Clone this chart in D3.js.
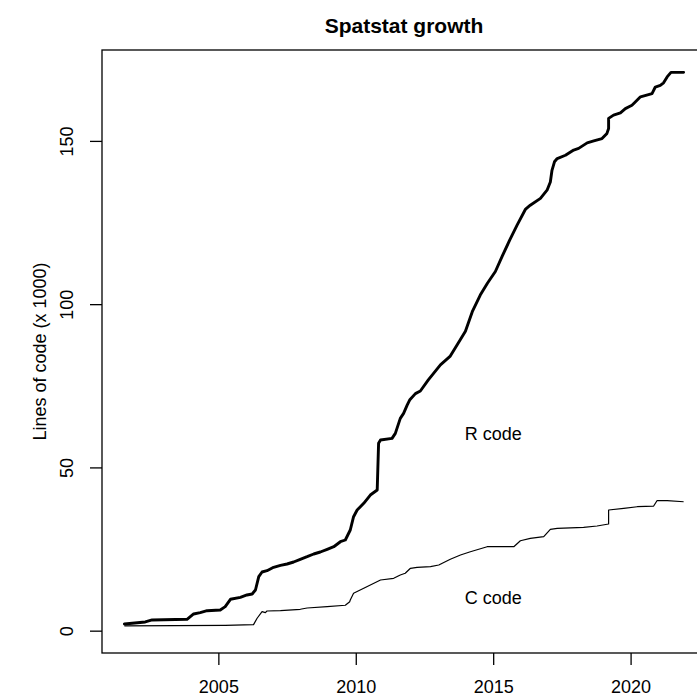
<!DOCTYPE html>
<html>
<head>
<meta charset="utf-8">
<script src="https://cdn.jsdelivr.net/npm/d3@7"></script>
<style>
  body { margin: 0; background: #fff; }
  svg { display: block; font-family: "Liberation Sans", Arial, sans-serif; }
</style>
</head>
<body>
<svg id="chart"></svg>
<script>
// R code series (years, lines of code x 1000)
let rYears = [2001.58, 2002.34, 2002.59, 2003.86, 2004.10, 2004.34, 2004.59, 2005.07, 2005.25, 2005.44,
  2005.80, 2006.04, 2006.23, 2006.35, 2006.47, 2006.59, 2006.77, 2007.01, 2007.26, 2007.50,
  2007.74, 2007.98, 2008.23, 2008.47, 2008.71, 2008.96, 2009.20, 2009.44, 2009.62, 2009.80,
  2009.92, 2010.05, 2010.29, 2010.53, 2010.78, 2010.83, 2010.90, 2011.32, 2011.44, 2011.62,
  2011.74, 2011.87, 2011.96, 2012.17, 2012.35, 2012.64, 2013.08, 2013.44, 2013.73, 2013.99,
  2014.24, 2014.53, 2014.79, 2015.08, 2015.33, 2015.60, 2015.87, 2016.17, 2016.35, 2016.72,
  2016.96, 2017.08, 2017.14, 2017.23, 2017.33, 2017.63, 2017.93, 2018.11, 2018.42, 2018.66,
  2018.96, 2019.14, 2019.20, 2019.20, 2019.38, 2019.63, 2019.81, 2020.05, 2020.17, 2020.36,
  2020.78, 2020.90, 2021.08, 2021.20, 2021.33, 2021.47, 2021.93]
let rLines = [2.05, 2.66, 3.28, 3.49, 5.11, 5.51, 6.12, 6.34, 7.35, 9.61,
  10.22, 10.93, 11.23, 12.46, 16.53, 17.97, 18.37, 19.41, 20.02, 20.42,
  21.03, 21.86, 22.65, 23.48, 24.09, 24.92, 25.71, 27.24, 27.77, 30.83,
  34.90, 36.95, 39.00, 41.54, 43.07, 57.37, 58.38, 58.90, 60.43, 65.02,
  66.55, 69.09, 70.62, 72.6, 73.4, 76.8, 81.4, 84.1, 88.1, 91.7,
  97.7, 102.8, 106.4, 110.0, 114.7, 119.6, 124.2, 129.0, 130.3, 132.4,
  134.9, 137.4, 141.0, 143.6, 144.6, 145.6, 147.2, 147.7, 149.4, 150.0,
  150.7, 152.3, 153.8, 156.9, 157.9, 158.6, 159.9, 160.9, 161.9, 163.5,
  164.5, 166.5, 167.0, 167.8, 169.6, 171.0, 171.0]

// C code series
let cYears = [2001.58, 2005.25, 2006.28, 2006.41, 2006.59, 2006.71, 2006.77, 2007.26, 2007.98, 2008.23,
  2008.96, 2009.62, 2009.78, 2009.80, 2009.92, 2010.29, 2010.90, 2011.38, 2011.62, 2011.80,
  2011.99, 2012.23, 2012.72, 2013.02, 2013.44, 2013.81, 2014.17, 2014.78, 2015.75, 2015.99,
  2016.35, 2016.84, 2017.08, 2017.33, 2018.29, 2018.78, 2019.20, 2019.20, 2019.75, 2020.24,
  2020.84, 2020.96, 2021.33, 2021.93]
let cLines = [1.44, 1.65, 1.84, 3.80, 5.82, 5.51, 6.03, 6.12, 6.55, 6.95,
  7.35, 7.78, 8.88, 9.40, 11.45, 12.98, 15.52, 16.04, 17.05, 17.57,
  19.10, 19.41, 19.59, 20.11, 21.86, 23.17, 24.18, 25.71, 25.71, 27.55,
  28.29, 28.78, 31.04, 31.35, 31.65, 32.05, 32.66, 36.95, 37.47, 37.96,
  38.17, 39.80, 39.80, 39.49]

let xTicks = [2005, 2010, 2015, 2020]
let yTicks = [0, 50, 100, 150]
let labels = ["R code", "C code"]
let labelPos = [[2015, 60], [2015, 9.5]]

let width = 697, height = 699
let box = {left: 102, right: 706, top: 50, bottom: 653}

let svg = d3.select('#chart').attr('width', width).attr('height', height)

// R style axis extents: 4% padding
let xr = d3.extent(rYears.concat(cYears))
let xpad = (xr[1] - xr[0]) * 0.04
let ymax = d3.max(rLines.concat(cLines))
let ypad = ymax * 0.04
let x = d3.scaleLinear().domain([xr[0] - xpad, xr[1] + xpad]).range([box.left, box.right])
let y = d3.scaleLinear().domain([-ypad, ymax + ypad]).range([box.bottom, box.top])

let line = d3.line().x(d => x(d[0])).y(d => y(d[1]))

svg.append('path')
  .datum(d3.zip(rYears, rLines))
  .attr('d', line)
  .attr('fill', 'none').attr('stroke', '#000').attr('stroke-width', 2.9)
  .attr('stroke-linejoin', 'round').attr('stroke-linecap', 'round')

svg.append('path')
  .datum(d3.zip(cYears, cLines))
  .attr('d', line)
  .attr('fill', 'none').attr('stroke', '#000').attr('stroke-width', 1.2)
  .attr('stroke-linejoin', 'round')

// box
svg.append('rect')
  .attr('x', box.left).attr('y', box.top)
  .attr('width', box.right - box.left).attr('height', box.bottom - box.top)
  .attr('fill', 'none').attr('stroke', '#000').attr('stroke-width', 1.3)

// axes
let xAxis = svg.append('g')
  .attr('transform', `translate(0,${box.bottom})`)
  .call(d3.axisBottom(x).tickValues(xTicks).tickFormat(d3.format('d')).tickSize(12).tickPadding(15))
xAxis.select('.domain').remove()
xAxis.selectAll('line').attr('stroke-width', 1.3)
xAxis.selectAll('text').attr('font-size', 18).attr('fill', '#000').attr('font-family', null)

let yAxis = svg.append('g')
  .attr('transform', `translate(${box.left},0)`)
  .call(d3.axisLeft(y).tickValues(yTicks).tickSize(12).tickPadding(0))
yAxis.select('.domain').remove()
yAxis.selectAll('line').attr('stroke-width', 1.3)
yAxis.selectAll('text')
  .attr('font-size', 18).attr('fill', '#000').attr('font-family', null)
  .attr('x', null).attr('dy', null)
  .attr('text-anchor', 'middle')
  .attr('transform', 'translate(-34,0) rotate(-90)')
  .attr('dominant-baseline', 'middle')

// annotations
svg.selectAll('text.lab')
  .data(labels)
  .enter()
  .append('text')
  .attr('class', 'lab')
  .attr('x', (d, i) => x(labelPos[i][0]))
  .attr('y', (d, i) => y(labelPos[i][1]))
  .attr('text-anchor', 'middle')
  .attr('dominant-baseline', 'middle')
  .attr('font-size', 18)
  .text(d => d)

// title and axis label
svg.append('text')
  .attr('x', (box.left + box.right) / 2).attr('y', 27)
  .attr('text-anchor', 'middle').attr('dominant-baseline', 'middle')
  .attr('font-size', 21).attr('font-weight', 'bold')
  .text('Spatstat growth')

svg.append('text')
  .attr('transform', `translate(41,${(box.top + box.bottom) / 2}) rotate(-90)`)
  .attr('text-anchor', 'middle').attr('dominant-baseline', 'middle')
  .attr('font-size', 18)
  .text('Lines of code (x 1000)')
</script>
</body>
</html>
